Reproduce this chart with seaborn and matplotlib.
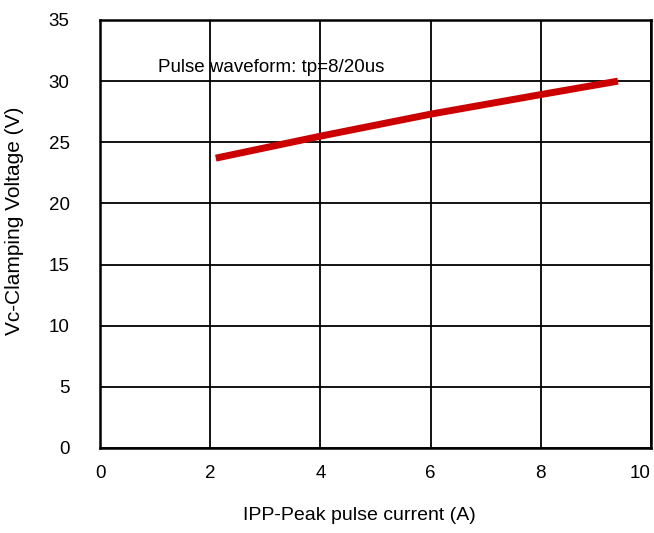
import matplotlib
matplotlib.use("Agg")
import pandas as pd
import seaborn as sns
import matplotlib.pyplot as plt

# data
current = [2.1, 4.0, 6.0, 8.0, 9.4]
voltage = [23.7, 25.5, 27.3, 28.9, 30.0]
x_ticks = [0, 2, 4, 6, 8, 10]
y_ticks = [0, 5, 10, 15, 20, 25, 30, 35]

df = pd.DataFrame({"Ipp": current, "Vc": voltage})

sns.set_style("white")
plt.rcParams["font.family"] = ["Liberation Sans", "DejaVu Sans"]
plt.rcParams["text.color"] = "black"
plt.rcParams["axes.labelcolor"] = "black"

fig = plt.figure(figsize=(6.54, 5.33), dpi=100)
ax = fig.add_axes([0.153, 0.1595, 0.8424, 0.803])

sns.lineplot(data=df, x="Ipp", y="Vc", ax=ax, color="#cc0000", linewidth=5,
             solid_capstyle="butt")

ax.set_xlim(0, 10)
ax.set_ylim(0, 35)
ax.set_xticks(x_ticks)
ax.set_yticks(y_ticks)
ax.grid(True, color="black", linewidth=1.3)
ax.set_axisbelow(True)
for s in ax.spines.values():
    s.set_color("black")
    s.set_linewidth(1.8)
ax.tick_params(axis="both", length=0, labelsize=13.5, colors="black")
ax.tick_params(axis="y", pad=22)
ax.tick_params(axis="x", pad=12)
# last x label sits against the right edge like in the reference
ax.get_xticklabels()[-1].set_horizontalalignment("right")

ax.text(1.05, 31.1, "Pulse waveform: tp=8/20us", fontsize=13.5, va="center", ha="left")
ax.set_xlabel("IPP-Peak pulse current (A)", fontsize=14)
ax.set_ylabel("Vc-Clamping Voltage (V)", fontsize=15)
ax.xaxis.set_label_coords(0.47, -0.138)
ax.yaxis.set_label_coords(-0.138, 0.53)

fig.savefig("out.png", dpi=100)
